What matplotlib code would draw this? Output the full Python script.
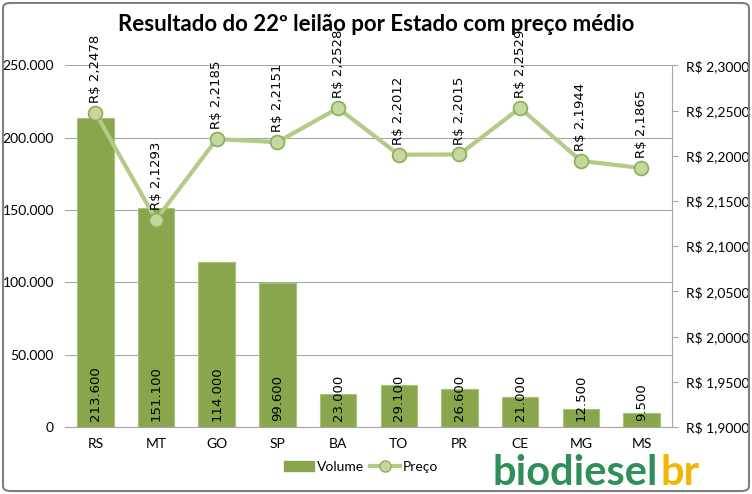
import numpy as np
import matplotlib.pyplot as plt
from matplotlib.lines import Line2D
from matplotlib.patches import Patch, FancyBboxPatch

estados = ['RS', 'MT', 'GO', 'SP', 'BA', 'TO', 'PR', 'CE', 'MG', 'MS']
volume = [213600, 151100, 114000, 99600, 23000, 29100, 26600, 21000, 12500, 9500]
preco = [2.2478, 2.1293, 2.2185, 2.2151, 2.2528, 2.2012, 2.2015, 2.2529, 2.1944, 2.1865]

bar_color = '#8AA64D'
line_color = '#B3CB86'
marker_face = '#C4D79E'
marker_edge = '#8EAC54'
grid_color = '#A6A6A6'


def fmt_milhar(v):
    return f'{v:,.0f}'.replace(',', '.')


def fmt_real(v):
    return 'R$ ' + f'{v:.4f}'.replace('.', ',')


plt.rcParams['font.family'] = ['Lato', 'DejaVu Sans']

fig = plt.figure(figsize=(7.52, 4.94), dpi=100)
ax = fig.add_axes([0.0864, 0.1356, 0.807, 0.732])
x = np.arange(len(estados))

ax.bar(x, volume, width=0.6, color=bar_color, edgecolor='#A9C27A', linewidth=0.8, zorder=2,
       label='Volume')
ax.set_ylim(0, 250000)
ax.set_xlim(-0.5, len(estados) - 0.5)
ax.set_yticks(np.arange(0, 250001, 50000))
ax.set_yticklabels([fmt_milhar(v) for v in np.arange(0, 250001, 50000)])
ax.set_xticks(x)
ax.set_xticklabels(estados)
ax.grid(axis='y', color=grid_color, linewidth=0.8, zorder=0)
ax.tick_params(axis='y', length=0, labelsize=10, pad=8)
ax.tick_params(axis='x', length=0, labelsize=10, pad=8)
for s in ['top', 'right', 'left']:
    ax.spines[s].set_visible(False)
ax.spines['bottom'].set_color(grid_color)

for xi, v in zip(x, volume):
    ax.annotate(fmt_milhar(v), (xi, 0), xytext=(0, 4), textcoords='offset points',
                rotation=90, ha='center', va='bottom', fontsize=9.5,
                family='DejaVu Sans', zorder=5)

ax2 = ax.twinx()
ax2.plot(x, preco, color=line_color, linewidth=3, marker='o', markersize=10,
         markerfacecolor=marker_face, markeredgecolor=marker_edge, markeredgewidth=1.2,
         zorder=4, label='Preço')
ax2.set_ylim(1.9, 2.3)
ticks2 = np.arange(1.9, 2.30001, 0.05)
ax2.set_yticks(ticks2)
ax2.set_yticklabels([fmt_real(t) for t in ticks2])
ax2.tick_params(axis='y', length=4, color=grid_color, labelsize=10, pad=6)
for s in ['top', 'left', 'bottom']:
    ax2.spines[s].set_visible(False)
ax2.spines['right'].set_color(grid_color)

for xi, p in zip(x, preco):
    ax2.annotate(fmt_real(p), (xi, p), xytext=(0, 7), textcoords='offset points',
                 rotation=90, ha='center', va='bottom', fontsize=9.5,
                 family='DejaVu Sans', zorder=6)

fig.suptitle('Resultado do 22º leilão por Estado com preço médio', x=0.5, y=0.972,
             fontsize=16, fontweight='bold')

handles = [Patch(facecolor=bar_color, edgecolor=bar_color),
           Line2D([], [], color=line_color, linewidth=3, marker='o', markersize=8,
                  markerfacecolor=marker_face, markeredgecolor=marker_edge)]
fig.legend(handles, ['Volume', 'Preço'], loc='center', bbox_to_anchor=(0.48, 0.055),
           ncol=2, frameon=False, fontsize=10, handlelength=2.2, columnspacing=0.4,
           handletextpad=0.2)

# logo
logo = fig.text(0.655, 0.018, 'biodiesel', fontsize=30, fontweight='bold', color='#2F8E5A',
                ha='left', va='baseline')
fig.canvas.draw()
bb = logo.get_window_extent().transformed(fig.transFigure.inverted())
fig.text(bb.x1 + 0.004, 0.018, 'br', fontsize=30, fontweight='bold', color='#F2B705',
         ha='left', va='baseline')

fig.patches.append(FancyBboxPatch((0.004, 0.006), 0.992, 0.988,
                                  boxstyle='round,pad=0,rounding_size=0.01',
                                  transform=fig.transFigure, fill=False, edgecolor='#7F7F7F',
                                  linewidth=1.5))

fig.savefig('out.png', dpi=100)
